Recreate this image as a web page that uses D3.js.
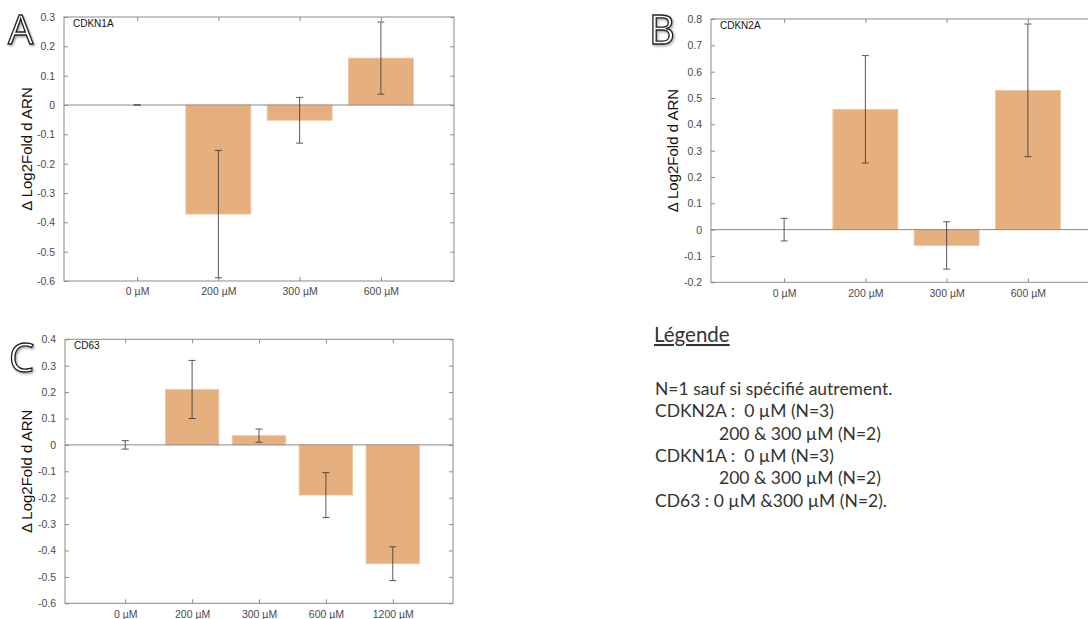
<!DOCTYPE html>
<html>
<head>
<meta charset="utf-8">
<script src="https://cdn.jsdelivr.net/npm/d3@7"></script>
<style>
  html, body { margin: 0; padding: 0; background: #fff; }
  svg { display: block; }
</style>
</head>
<body>
<svg id="fig" width="1088" height="619"></svg>
<script>
// Dose categories
const dosesShort = ["0 µM", "200 µM", "300 µM", "600 µM"];
const dosesLong = ["0 µM", "200 µM", "300 µM", "600 µM", "1200 µM"];

// Δ Log2Fold values and error bar half-widths per gene
const cdkn1aValues = [0, -0.372, -0.052, 0.160];
const cdkn1aErrors = [0, 0.217, 0.078, 0.123];

const cdkn2aValues = [0, 0.457, -0.060, 0.529];
const cdkn2aErrors = [0.043, 0.204, 0.090, 0.252];

const cd63Values = [0, 0.210, 0.035, -0.190, -0.450];
const cd63Errors = [0.016, 0.110, 0.025, 0.085, 0.064];

// Y tick values
const ticksA = [0.3, 0.2, 0.1, 0, -0.1, -0.2, -0.3, -0.4, -0.5, -0.6];
const ticksB = [0.8, 0.7, 0.6, 0.5, 0.4, 0.3, 0.2, 0.1, 0, -0.1, -0.2];
const ticksC = [0.4, 0.3, 0.2, 0.1, 0, -0.1, -0.2, -0.3, -0.4, -0.5, -0.6];

// Legend text
const legendTitle = "Légende";
const legendLines = [
  { text: "N=1 sauf si spécifié autrement.", indent: false },
  { text: "CDKN2A :  0 µM (N=3)", indent: false },
  { text: "200 & 300 µM (N=2)", indent: true },
  { text: "CDKN1A :  0 µM (N=3)", indent: false },
  { text: "200 & 300 µM (N=2)", indent: true },
  { text: "CD63 : 0 µM &300 µM (N=2).", indent: false }
];

const svg = d3.select("#fig");
const BAR = "#e5b07e";
const AXIS = "#8a8a8a";
const TICKTXT = "#4a4a4a";
const FONT = "'Liberation Sans', Arial, Helvetica, sans-serif";

// soft shadow for the panel letters
svg.append("defs").append("filter")
  .attr("id", "letterShadow")
  .attr("x", "-20%").attr("y", "-20%").attr("width", "150%").attr("height", "150%")
  .append("feDropShadow")
  .attr("dx", 1.2).attr("dy", 1.5).attr("stdDeviation", 0.8)
  .attr("flood-color", "#000").attr("flood-opacity", 0.35);

function panel(cfg) {
  const { left, top, right, bottom, cats, values, errors, yDomain, ticks, title, letter, letterPos, ylabelX } = cfg;
  const g = svg.append("g");
  const n = cats.length;
  const x = d3.scaleLinear().domain([0.1, n + 0.9]).range([left, right]);
  const y = d3.scaleLinear().domain(yDomain).range([bottom, top]);
  const bw = x(0.8) - x(0);

  // axes box
  g.append("rect")
    .attr("x", left).attr("y", top)
    .attr("width", right - left).attr("height", bottom - top)
    .attr("fill", "none").attr("stroke", AXIS).attr("stroke-width", 1);

  // bars
  g.selectAll("rect.bar").data(values).enter().append("rect")
    .attr("class", "bar")
    .attr("x", (d, i) => x(i + 1) - bw / 2)
    .attr("width", bw)
    .attr("y", d => y(Math.max(0, d)))
    .attr("height", d => Math.abs(y(d) - y(0)))
    .attr("fill", BAR)
    .attr("stroke", "#efc8a0").attr("stroke-width", 0.8);

  // baseline
  g.append("line")
    .attr("x1", left).attr("x2", right)
    .attr("y1", y(0)).attr("y2", y(0))
    .attr("stroke", AXIS).attr("stroke-width", 1);

  // axes with inward ticks on all four sides
  const yAxisL = d3.axisLeft(y).tickValues(ticks).tickSize(-4).tickPadding(9)
    .tickFormat(d => d === 0 ? "0" : d3.format(".1f")(d).replace("−", "-"));
  const gy = g.append("g").attr("transform", `translate(${left},0)`).call(yAxisL);
  const yAxisR = d3.axisRight(y).tickValues(ticks).tickSize(-4).tickFormat("");
  const gyr = g.append("g").attr("transform", `translate(${right},0)`).call(yAxisR);
  const xAxisB = d3.axisBottom(x).tickValues(d3.range(1, n + 1)).tickSize(-4).tickPadding(7)
    .tickFormat((d, i) => cats[i]);
  const gx = g.append("g").attr("transform", `translate(0,${bottom})`).call(xAxisB);
  const xAxisT = d3.axisTop(x).tickValues(d3.range(1, n + 1)).tickSize(-4).tickFormat("");
  const gxt = g.append("g").attr("transform", `translate(0,${top})`).call(xAxisT);
  [gy, gyr, gx, gxt].forEach(a => {
    a.select(".domain").remove();
    a.selectAll(".tick line").attr("stroke", AXIS);
    a.selectAll("text").attr("fill", TICKTXT).style("font-family", FONT).style("font-size", "10.5px");
  });

  // error bars
  const cap = 3.5;
  const eb = g.selectAll("g.err").data(values).enter().append("g").attr("class", "err")
    .attr("stroke", "#3a3a3a").attr("stroke-width", 1).attr("opacity", 0.85);
  eb.append("line")
    .attr("x1", (d, i) => x(i + 1)).attr("x2", (d, i) => x(i + 1))
    .attr("y1", (d, i) => y(d + errors[i])).attr("y2", (d, i) => y(d - errors[i]));
  eb.append("line")
    .attr("x1", (d, i) => x(i + 1) - cap).attr("x2", (d, i) => x(i + 1) + cap)
    .attr("y1", (d, i) => y(d + errors[i])).attr("y2", (d, i) => y(d + errors[i]));
  eb.append("line")
    .attr("x1", (d, i) => x(i + 1) - cap).attr("x2", (d, i) => x(i + 1) + cap)
    .attr("y1", (d, i) => y(d - errors[i])).attr("y2", (d, i) => y(d - errors[i]));

  // gene title inside the box
  g.append("text")
    .attr("x", left + 9).attr("y", top + 10)
    .attr("fill", "#111").style("font-family", FONT).style("font-size", "10px")
    .text(title);

  // y-axis label
  const cy = (top + bottom) / 2;
  g.append("text")
    .attr("transform", `translate(${ylabelX},${cy}) rotate(-90)`)
    .attr("text-anchor", "middle")
    .attr("fill", "#111").style("font-family", FONT).style("font-size", "15px")
    .text("Δ Log2Fold d ARN");

  // panel letter (outlined, with soft shadow)
  svg.append("text")
    .attr("x", letterPos[0]).attr("y", letterPos[1])
    .attr("fill", "#fff").attr("stroke", "#222").attr("stroke-width", 1.3)
    .attr("filter", "url(#letterShadow)")
    .style("font-family", "'Open Sans', sans-serif").style("font-size", "40px")
    .text(letter);
}

panel({
  left: 64, top: 17, right: 454, bottom: 281,
  cats: dosesShort, values: cdkn1aValues, errors: cdkn1aErrors,
  yDomain: [-0.6, 0.3], ticks: ticksA, title: "CDKN1A",
  letter: "A", letterPos: [8, 44], ylabelX: 32
});

panel({
  left: 711, top: 19, right: 1101, bottom: 282.3,
  cats: dosesShort, values: cdkn2aValues, errors: cdkn2aErrors,
  yDomain: [-0.2, 0.8], ticks: ticksB, title: "CDKN2A",
  letter: "B", letterPos: [649, 44], ylabelX: 678
});

panel({
  left: 65, top: 339.3, right: 453, bottom: 603.3,
  cats: dosesLong, values: cd63Values, errors: cd63Errors,
  yDomain: [-0.6, 0.4], ticks: ticksC, title: "CD63",
  letter: "C", letterPos: [9, 372], ylabelX: 32
});

// Legend block
const LFONT = "Lato, 'Open Sans', sans-serif";
const lg = svg.append("g");
lg.append("text")
  .attr("x", 654).attr("y", 342)
  .attr("fill", "#333").style("font-family", LFONT).style("font-size", "20.5px")
  .style("text-decoration", "underline")
  .text(legendTitle);
lg.selectAll("text.line").data(legendLines).enter().append("text")
  .attr("class", "line")
  .attr("x", d => d.indent ? 719 : 655)
  .attr("y", (d, i) => 395 + i * 22.3)
  .attr("fill", "#333").style("font-family", LFONT).style("font-size", "17.5px")
  .style("white-space", "pre")
  .text(d => d.text);
</script>
</body>
</html>
